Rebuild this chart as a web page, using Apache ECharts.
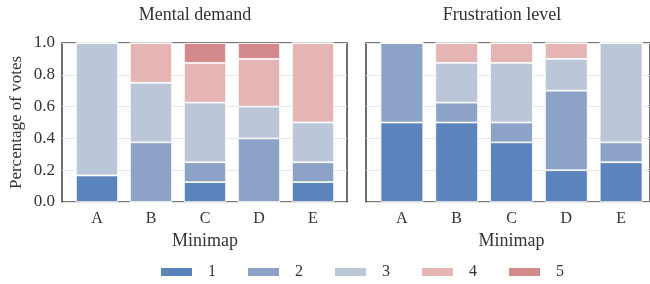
<!DOCTYPE html>
<html>
<head>
<meta charset="utf-8">
<script src="https://cdn.jsdelivr.net/npm/echarts@6/dist/echarts.min.js"></script>
<style>
  html, body { margin: 0; padding: 0; background: #fff; }
  #main { width: 650px; height: 284px; }
</style>
</head>
<body>
<div id="main"></div>
<script>
/* data */
const categories = ['A', 'B', 'C', 'D', 'E'];
const levels = ['1', '2', '3', '4', '5'];
const yTicks = [0, 0.2, 0.4, 0.6, 0.8, 1.0];

// share of votes per level, one array per level (A..E)
const mental = {
    '1': [0.167, 0, 0.125, 0, 0.125],
    '2': [0, 0.375, 0.125, 0.4, 0.125],
    '3': [0.833, 0.375, 0.375, 0.2, 0.25],
    '4': [0, 0.25, 0.25, 0.3, 0.5],
    '5': [0, 0, 0.125, 0.1, 0]
};
const frustration = {
    '1': [0.5, 0.5, 0.375, 0.2, 0.25],
    '2': [0.5, 0.125, 0.125, 0.5, 0.125],
    '3': [0, 0.25, 0.375, 0.2, 0.625],
    '4': [0, 0.125, 0.125, 0.1, 0],
    '5': [0, 0, 0, 0, 0]
};
const colors = ['#5b84bd', '#8ca2c6', '#bcc6d9', '#e5b5b5', '#d48a8a'];

const font = 'Liberation Serif';
const txt = '#333';

var chart = echarts.init(document.getElementById('main'));

// frame grids (border + gridlines) and bar grids (category bands)
const grids = [
    { left: 62, top: 43, width: 285, height: 159, show: true, borderColor: '#4a4a4a', borderWidth: 1.6 },
    { left: 70, top: 43, width: 270, height: 159 },
    { left: 366, top: 43, width: 292, height: 159, show: true, borderColor: '#4a4a4a', borderWidth: 1.6 },
    { left: 374.5, top: 43, width: 274, height: 159 }
];

function frameX(i) {
    return { gridIndex: i, type: 'value', min: 0, max: 1, show: false };
}
function barX(i) {
    return {
        gridIndex: i, type: 'category', data: categories,
        axisLine: { show: false }, axisTick: { show: false },
        axisLabel: { margin: 9, color: txt, fontFamily: font, fontSize: 16 },
        name: 'Minimap', nameLocation: 'middle', nameGap: 24,
        nameTextStyle: { color: txt, fontFamily: font, fontSize: 18 }
    };
}
function frameY(i, labels) {
    return {
        gridIndex: i, type: 'value', min: yTicks[0], max: yTicks[yTicks.length - 1], interval: 0.2,
        axisLine: { show: false }, axisTick: { show: false },
        axisLabel: {
            show: labels, margin: 7, color: txt, fontFamily: font, fontSize: 17,
            formatter: v => v.toFixed(1)
        },
        splitLine: { show: true, lineStyle: { color: '#e8e8e8', width: 1.2 } },
        name: labels ? 'Percentage of votes' : '', nameLocation: 'middle', nameGap: 37,
        nameTextStyle: { color: txt, fontFamily: font, fontSize: 17 }
    };
}
function barY(i) {
    return { gridIndex: i, type: 'value', min: 0, max: 1, show: false, splitLine: { show: false } };
}

function makeSeries(data, axis, stack) {
    return levels.map((lv, k) => ({
        name: lv,
        type: 'bar',
        stack: stack,
        xAxisIndex: axis,
        yAxisIndex: axis,
        data: data[lv],
        barWidth: '78%',
        itemStyle: { color: colors[k], borderColor: '#fff', borderWidth: 0.8 }
    }));
}

var option = {
    backgroundColor: '#fff',
    animation: false,
    title: [
        { text: 'Mental demand', left: 195, top: 6, textAlign: 'center', padding: 0,
          textStyle: { fontFamily: font, fontSize: 18, fontWeight: 'normal', color: txt } },
        { text: 'Frustration level', left: 502, top: 6, textAlign: 'center', padding: 0,
          textStyle: { fontFamily: font, fontSize: 18, fontWeight: 'normal', color: txt } }
    ],
    legend: {
        data: levels,
        left: 159,
        top: 264,
        padding: 0,
        icon: 'rect',
        itemWidth: 33,
        itemHeight: 10,
        itemGap: 30,
        textStyle: { fontFamily: font, fontSize: 16, color: txt, padding: [0, 0, 0, 10] }
    },
    grid: grids,
    xAxis: [frameX(0), barX(1), frameX(2), barX(3)],
    yAxis: [frameY(0, true), barY(1), frameY(2, false), barY(3)],
    series: makeSeries(mental, 1, 'mental').concat(makeSeries(frustration, 3, 'frustration'))
};

chart.setOption(option);
</script>
</body>
</html>
